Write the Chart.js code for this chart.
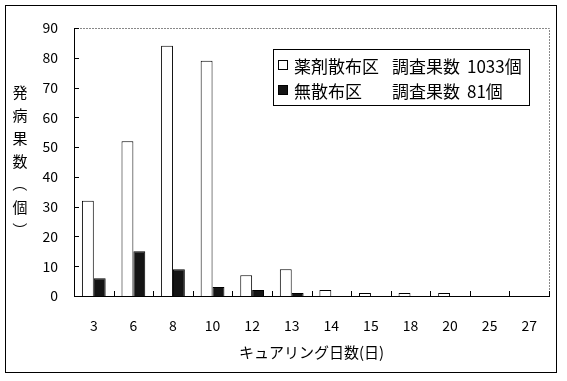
<!DOCTYPE html>
<html><head><meta charset="utf-8">
<script src="https://cdn.jsdelivr.net/npm/chart.js@4/dist/chart.umd.min.js"></script>
<style>html,body{margin:0;padding:0;background:#fff}#wrap{width:567px;height:381px}</style>
</head><body><div id="wrap"><canvas id="c" width="567" height="381"></canvas></div>
<script>
const categories = ['3','6','8','10','12','13','14','15','18','20','25','27'];
const sprayed = [32, 52, 84, 79, 7, 9, 2, 1, 1, 1, 0, 0];
const unsprayed = [6, 15, 9, 3, 2, 1, 0, 0, 0, 0, 0, 0];
const seriesNames = ['薬剤散布区', '無散布区'];
const surveyCounts = [1033, 81];
const yTitle = ['発','病','果','数','（','個','）'];
const xTitle = 'キュアリング日数(日)';
const FONT = '"Noto Sans CJK JP", "Noto Sans", sans-serif';

const decor = {
  id: 'decor',
  beforeDraw(chart) {
    const ctx = chart.ctx;
    ctx.save();
    ctx.fillStyle = '#fff';
    ctx.fillRect(0, 0, chart.width, chart.height);
    ctx.restore();
  },
  afterDraw(chart) {
    const ctx = chart.ctx, a = chart.chartArea;
    const xs = chart.scales.x, ys = chart.scales.y;
    ctx.save();
    // outer frame
    ctx.strokeStyle = '#000'; ctx.lineWidth = 1;
    ctx.strokeRect(5.5, 5.5, 551, 367);
    // dotted plot border top/right
    ctx.strokeStyle = '#888'; ctx.setLineDash([2, 1]);
    ctx.beginPath();
    ctx.moveTo(a.left, Math.round(a.top) + 0.5); ctx.lineTo(Math.round(a.right) + 0.5, Math.round(a.top) + 0.5);
    ctx.lineTo(Math.round(a.right) + 0.5, a.bottom);
    ctx.stroke();
    ctx.setLineDash([]);
    ctx.strokeStyle = '#000';
    // y ticks inside
    ctx.beginPath();
    ys.ticks.forEach(t => {
      const y = Math.round(ys.getPixelForValue(t.value)) + 0.5;
      ctx.moveTo(a.left, y); ctx.lineTo(a.left + 5, y);
    });
    // x ticks at category boundaries
    const n = categories.length, w = (a.right - a.left) / n;
    for (let k = 1; k <= n; k++) {
      const x = Math.round(a.left + k * w) + 0.5;
      ctx.moveTo(x, a.bottom); ctx.lineTo(x, a.bottom - 5);
    }
    ctx.stroke();
    // y title stacked
    ctx.fillStyle = '#000';
    ctx.font = '15px ' + FONT;
    ctx.textAlign = 'center'; ctx.textBaseline = 'middle';
    yTitle.forEach((ch, i) => {
      const y = 92 + i * 23;
      if (ch === '（' || ch === '）') {
        ctx.save(); ctx.translate(20, y); ctx.rotate(Math.PI / 2);
        ctx.fillText(ch, 0, 0); ctx.restore();
      } else {
        ctx.fillText(ch, 20, y);
      }
    });
    // x title
    ctx.font = '15px ' + FONT;
    ctx.fillText(xTitle, (a.left + a.right) / 2, 352);
    // legend
    ctx.fillStyle = '#fff';
    ctx.fillRect(273.5, 49.5, 256, 56);
    ctx.strokeRect(273.5, 49.5, 256, 56);
    ctx.textAlign = 'left';
    ctx.font = '17px ' + FONT;
    const rows = [66, 91];
    chart.data.datasets.forEach((ds, i) => {
      const y = rows[i];
      ctx.fillStyle = ds.backgroundColor;
      ctx.fillRect(278.5, y - 5.5, 9, 9);
      ctx.strokeStyle = '#000';
      ctx.strokeRect(278.5, y - 5.5, 9, 9);
      ctx.fillStyle = '#000';
      ctx.fillText(ds.label, 294, y + 1);
      ctx.fillText('調査果数', 392, y + 1);
      ctx.fillText(surveyCounts[i] + '個', 467, y + 1);
    });
    ctx.restore();
  }
};

new Chart(document.getElementById('c'), {
  type: 'bar',
  data: {
    labels: categories,
    datasets: [
      { label: seriesNames[0], data: sprayed, backgroundColor: '#ffffff', borderColor: '#000', borderWidth: 1 },
      { label: seriesNames[1], data: unsprayed, backgroundColor: '#141414', borderColor: '#000', borderWidth: 1 }
    ]
  },
  options: {
    responsive: false,
    animation: false,
    devicePixelRatio: 1,
    categoryPercentage: 0.6,
    barPercentage: 1.0,
    layout: { padding: { left: 0, right: 18, top: 28, bottom: 0 } },
    plugins: { legend: { display: false }, tooltip: { enabled: false } },
    scales: {
      x: {
        grid: { display: false, drawTicks: false },
        border: { display: true, color: '#000', width: 1 },
        ticks: { color: '#000', padding: 21, font: { family: FONT, size: 14 }, maxRotation: 0, autoSkip: false },
        afterFit: s => { s.height = 85; }
      },
      y: {
        min: 0, max: 90,
        grid: { display: false, drawTicks: false },
        border: { display: true, color: '#000', width: 1 },
        ticks: { stepSize: 10, color: '#000', padding: 16, font: { family: FONT, size: 14 } },
        afterFit: s => { s.width = 74; }
      }
    }
  },
  plugins: [decor]
});
</script></body></html>
